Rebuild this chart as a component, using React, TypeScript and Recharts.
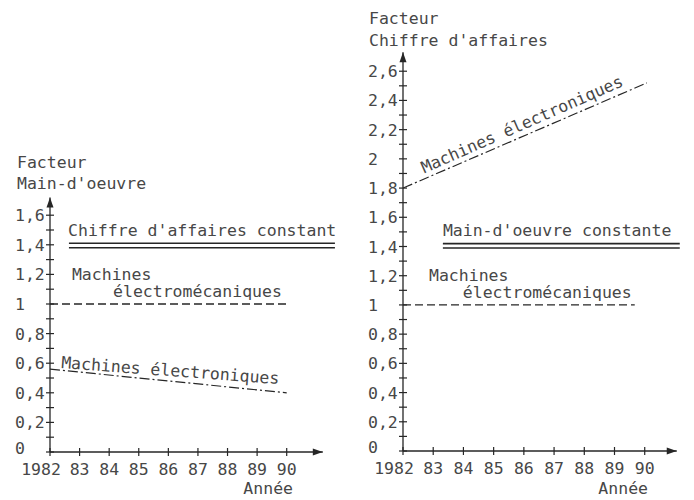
import React from 'react';
import { LineChart, Line, XAxis, YAxis, ReferenceLine, ReferenceDot } from 'recharts';

// ---------- data ----------
const years = [1982, 1983, 1984, 1985, 1986, 1987, 1988, 1989, 1990];
const yearLabels = ['1982', '83', '84', '85', '86', '87', '88', '89', '90'];

const leftYTicks = [0, 0.1, 0.2, 0.3, 0.4, 0.5, 0.6, 0.7, 0.8, 0.9, 1, 1.1, 1.2, 1.3, 1.4, 1.5, 1.6];
const leftYLabels = ['0', '', '0,2', '', '0,4', '', '0,6', '', '0,8', '', '1', '', '1,2', '', '1,4', '', '1,6'];

const rightYTicks = [0, 0.1, 0.2, 0.3, 0.4, 0.5, 0.6, 0.7, 0.8, 0.9, 1, 1.1, 1.2, 1.3, 1.4, 1.5, 1.6, 1.7, 1.8, 1.9, 2, 2.1, 2.2, 2.3, 2.4, 2.5, 2.6];
const rightYLabels = ['0', '', '0,2', '', '0,4', '', '0,6', '', '0,8', '', '1', '', '1,2', '', '1,4', '', '1,6', '', '1,8', '', '2', '', '2,2', '', '2,4', '', '2,6'];

// Left: factor "Main-d'oeuvre"
const leftTurnoverUpper = [{ year: 1982.64, v: 1.41 }, { year: 1991.63, v: 1.41 }];
const leftTurnoverLower = [{ year: 1982.64, v: 1.38 }, { year: 1991.63, v: 1.38 }];
const leftElectromech = [{ year: 1982, v: 1.0 }, { year: 1990, v: 1.0 }];
const leftElectronic = [{ year: 1982, v: 0.56 }, { year: 1990, v: 0.4 }];

// Right: factor "Chiffre d'affaires"
const rightLabourUpper = [{ year: 1983.32, v: 1.42 }, { year: 1991.16, v: 1.42 }];
const rightLabourLower = [{ year: 1983.32, v: 1.39 }, { year: 1991.16, v: 1.39 }];
const rightElectromech = [{ year: 1982, v: 1.0 }, { year: 1989.67, v: 1.0 }];
const rightElectronic = [{ year: 1982, v: 1.8 }, { year: 1990.07, v: 2.52 }];

// annotations (anchored in data coordinates)
const leftNotes = [
  { year: 1982.61, v: 1.46, text: "Chiffre d'affaires constant", angle: 0 },
  { year: 1982.74, v: 1.16, text: 'Machines', angle: 0 },
  { year: 1984.13, v: 1.047, text: 'électromécaniques', angle: 0 },
  { year: 1982.37, v: 0.567, text: 'Machines électroniques', angle: 4.2 },
];
const rightNotes = [
  { year: 1983.32, v: 1.47, text: "Main-d'oeuvre constante", angle: 0 },
  { year: 1982.86, v: 1.164, text: 'Machines', angle: 0 },
  { year: 1983.98, v: 1.048, text: 'électromécaniques', angle: 0 },
  { year: 1982.7, v: 1.9, text: 'Machines électroniques', angle: -23.7 },
];

// ---------- style ----------
const INK = '#262626';
const TEXT = '#474747';
const FONT = '"DejaVu Sans Mono", "Liberation Mono", monospace';
const FS = 16.5;

const makeXTick = () => (props: any) => {
  const { x, y, payload } = props;
  const i = years.indexOf(payload.value);
  const label = i >= 0 ? yearLabels[i] : '';
  return (
    <g>
      <line x1={x} y1={y - 4} x2={x} y2={y + 4} stroke={INK} strokeWidth={1.2} />
      <text x={x} y={y + 23} dx={i === 0 ? -9 : 0} textAnchor="middle" fill={TEXT}
        fontFamily={FONT} fontSize={FS}>{label}</text>
    </g>
  );
};

const makeYTick = (ticks: number[], labels: string[]) => (props: any) => {
  const { x, y, payload } = props;
  const i = ticks.findIndex((t) => Math.abs(t - payload.value) < 1e-6);
  const label = i >= 0 ? labels[i] : '';
  return (
    <g>
      <line x1={x - 4} y1={y} x2={x + 4} y2={y} stroke={INK} strokeWidth={1.2} />
      {label ? (
        <text x={x - 35} y={y + 6} dy={label === '0' ? -4 : 0} textAnchor="start" fill={TEXT}
          fontFamily={FONT} fontSize={FS}>{label}</text>
      ) : null}
    </g>
  );
};

const arrowShape = (dir: 'right' | 'up') => (p: any) => {
  const { x1, y1, x2, y2 } = p;
  const head = dir === 'right'
    ? `${x2},${y2} ${x2 - 10},${y2 - 3.5} ${x2 - 10},${y2 + 3.5}`
    : `${x2},${y2} ${x2 - 3.5},${y2 + 10} ${x2 + 3.5},${y2 + 10}`;
  return (
    <g>
      <line x1={x1} y1={y1} x2={x2} y2={y2} stroke={INK} strokeWidth={1.3} />
      <polygon points={head} fill={INK} />
    </g>
  );
};

const noteShape = (text: string, angle: number) => (p: any) => {
  const { cx, cy } = p;
  return (
    <text x={cx} y={cy} transform={angle ? `rotate(${angle} ${cx} ${cy})` : undefined}
      fill={TEXT} fontFamily={FONT} fontSize={FS}>{text}</text>
  );
};

const lineCommon = {
  type: 'linear' as const,
  dataKey: 'v',
  stroke: INK,
  dot: false,
  activeDot: false,
  isAnimationActive: false,
};

export default function App() {
  return (
    <div style={{ position: 'absolute', left: 0, top: 0, width: 694, height: 500, background: '#fff' }}>
      <div style={{ position: 'absolute', left: 0, top: 0 }}>
        <LineChart width={347} height={500} margin={{ top: 193, right: 10, bottom: 8, left: 10 }}>
          <XAxis type="number" dataKey="year" domain={[1982, 1991.7]} ticks={years}
            axisLine={false} tickLine={false} tickSize={0} tickMargin={0} height={40}
            tick={makeXTick()} interval={0} allowDataOverflow />
          <YAxis type="number" domain={[0, 1.75]} ticks={leftYTicks} axisLine={false}
            tickLine={false} tickSize={0} tickMargin={0} width={40}
            tick={makeYTick(leftYTicks, leftYLabels)} interval={0} allowDataOverflow />
          <ReferenceLine segment={[{ x: 1982, y: 0 }, { x: 1991.22, y: 0 }]} ifOverflow="visible" shape={arrowShape('right')} />
          <ReferenceLine segment={[{ x: 1982, y: 0 }, { x: 1982, y: 1.72 }]} ifOverflow="visible" shape={arrowShape('up')} />
          <Line {...lineCommon} data={leftTurnoverUpper} strokeWidth={1.6} />
          <Line {...lineCommon} data={leftTurnoverLower} strokeWidth={1.6} />
          <Line {...lineCommon} data={leftElectromech} strokeWidth={1.3} strokeDasharray="8 4" />
          <Line {...lineCommon} data={leftElectronic} strokeWidth={1.2} strokeDasharray="10 3 2 3" />
          {leftNotes.map((n, i) => (
            <ReferenceDot key={'ln' + i} x={n.year} y={n.v} r={0} ifOverflow="visible" shape={noteShape(n.text, n.angle)} />
          ))}
        </LineChart>
      </div>
      <div style={{ position: 'absolute', left: 347, top: 0 }}>
        <LineChart width={347} height={500} margin={{ top: 42, right: 10, bottom: 8, left: 16 }}>
          <XAxis type="number" dataKey="year" domain={[1982, 1991.3]} ticks={years}
            axisLine={false} tickLine={false} tickSize={0} tickMargin={0} height={41}
            tick={makeXTick()} interval={0} allowDataOverflow />
          <YAxis type="number" domain={[0, 2.8]} ticks={rightYTicks} axisLine={false}
            tickLine={false} tickSize={0} tickMargin={0} width={40}
            tick={makeYTick(rightYTicks, rightYLabels)} interval={0} allowDataOverflow />
          <ReferenceLine segment={[{ x: 1982, y: 0 }, { x: 1991.06, y: 0 }]} ifOverflow="visible" shape={arrowShape('right')} />
          <ReferenceLine segment={[{ x: 1982, y: 0 }, { x: 1982, y: 2.73 }]} ifOverflow="visible" shape={arrowShape('up')} />
          <Line {...lineCommon} data={rightLabourUpper} strokeWidth={1.6} />
          <Line {...lineCommon} data={rightLabourLower} strokeWidth={1.6} />
          <Line {...lineCommon} data={rightElectromech} strokeWidth={1.3} strokeDasharray="8 4" />
          <Line {...lineCommon} data={rightElectronic} strokeWidth={1.2} strokeDasharray="10 3 2 3" />
          {rightNotes.map((n, i) => (
            <ReferenceDot key={'rn' + i} x={n.year} y={n.v} r={0} ifOverflow="visible" shape={noteShape(n.text, n.angle)} />
          ))}
        </LineChart>
      </div>
      <svg width={694} height={500} style={{ position: 'absolute', left: 0, top: 0, pointerEvents: 'none' }}>
        <g fill={TEXT} fontFamily={FONT} fontSize={FS}>
          <text x={17} y={168}>Facteur</text>
          <text x={17} y={189}>Main-d'oeuvre</text>
          <text x={293} y={494} textAnchor="end">Année</text>
          <text x={369} y={24}>Facteur</text>
          <text x={369} y={46}>Chiffre d'affaires</text>
          <text x={648} y={494} textAnchor="end">Année</text>
        </g>
      </svg>
    </div>
  );
}
